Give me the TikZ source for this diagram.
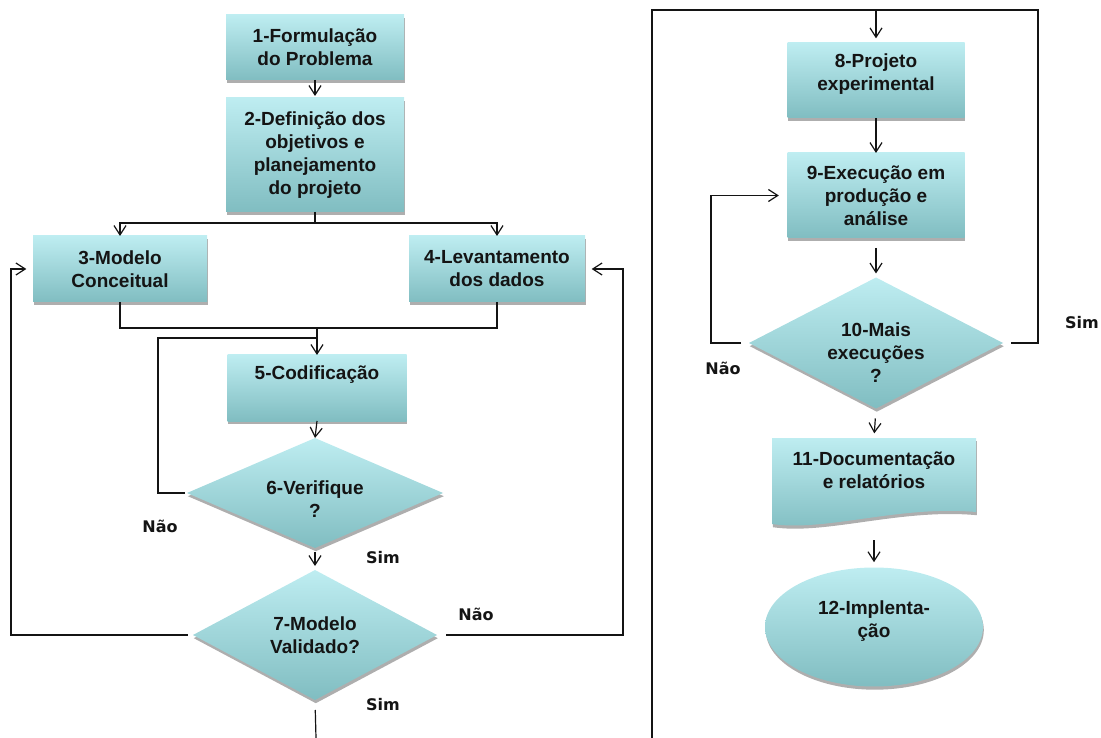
\documentclass[tikz,border=0pt]{standalone}
\usepackage{fontspec}
\setmainfont{Liberation Sans}
\newfontfamily\lblfont{DejaVu Sans}
\usetikzlibrary{arrows.meta,shapes.geometric,shadows,calc}

\definecolor{boxtop}{RGB}{190,237,241}
\definecolor{boxbot}{RGB}{128,189,193}
\definecolor{ink}{RGB}{20,20,20}

\tikzset{
  dims/.style 2 args={minimum width=#1*0.75pt, minimum height=#2*0.75pt},
  body/.style={top color=boxtop, bottom color=boxbot, draw=none,
    drop shadow={shadow xshift=0.6pt, shadow yshift=-2.4pt, opacity=0.45, fill=black!70}},
  procbox/.style={body, rectangle},
  decision/.style={body, diamond},
  terminal/.style={body, ellipse},
  txt/.style={font=\fontsize{14.25}{17.25}\selectfont\bfseries, align=center, text=ink},
  yn/.style={font=\lblfont\fontsize{12}{14}\selectfont\bfseries, text=ink},
  link/.style={draw=ink, line width=0.9pt},
  arr/.style={link, -{Straight Barb[length=7pt,width=9pt]}},
}

\begin{document}
\begin{tikzpicture}[x=0.75pt, y=-0.75pt, every node/.style={inner sep=0pt, outer sep=0pt}]
\useasboundingbox (0,0) rectangle (1101,738);

% ---- left column: modelling and validation ----
\node[procbox, dims={178}{65}] (b1) at (315,47.5)
  {}; \node[txt] (t1) at (b1) {1-Formulação\\do Problema};
\node[procbox, dims={178}{114}] (b2) at (315,155) {};
\node[txt] (t2) at (b2) {2-Definição dos\\objetivos e\\planejamento\\do projeto};
\node[procbox, dims={174}{66}] (b3) at (120,269) {};
\node[txt] (t3) at (b3) {3-Modelo\\Conceitual};
\node[procbox, dims={176}{66}] (b4) at (497,269) {};
\node[txt] (t4) at (b4) {4-Levantamento\\dos dados};
\node[procbox, dims={179}{66}] (b5) at (317,388) {};
\node[txt] (t5) at (317,375) {5-Codificação};
\node[decision, dims={256}{110}] (d6) at (315,493) {};
\node[txt] (t6) at (315,499) {6-Verifique\\?};
\node[decision, dims={244}{130}] (d7) at (315,635) {};
\node[txt] (t7) at (d7) {7-Modelo\\Validado?};

% ---- right column: experiments and reporting ----
\node[procbox, dims={177}{75}] (b8) at (876,80.5) {};
\node[txt] (t8) at (876,74.5) {8-Projeto\\experimental};
\node[procbox, dims={177}{85}] (b9) at (876,195.5) {};
\node[txt] (t9) at (b9) {9-Execução em\\produção e\\análise};
\node[decision, dims={254}{131}] (d10) at (876,343) {};
\node[txt] (t10) at (876,353) {10-Mais\\execuções\\?};
% document shape with a wavy lower edge
\path[body] (772,438) -- (976,438) -- (976,512)
  .. controls (900,505) and (825,532) .. (772,524) -- cycle;
\node[dims={204}{82}] (b11) at (874,479) {};
\node[txt] (t11) at (874,470.5) {11-Documentação\\e relatórios};
\node[terminal, dims={218}{119}] (e12) at (874,627) {};
\node[txt] (t12) at (874,621) {12-Implenta-\\ção};

% ---- connectors, left ----
\coordinate (split) at (315,223);
\coordinate (merge) at (317,328);
\coordinate (loopc) at (158,338);
\coordinate (xl) at (11,0);
\coordinate (xr) at (623,0);
\coordinate (out1) at (316,738);

\draw[arr, shorten >=1.5pt] (b1.south) -- (b2.north);
\draw[link] (b2.south) -- (split);
\draw[arr] (split) -| (b3.north);
\draw[arr] (split) -| (b4.north);
\draw[link] (b3.south) |- (merge);
\draw[link] (b4.south) |- (merge);
\draw[arr] (merge) -- (b5.north);
\draw[link, shorten <=1.5pt] (d6.west) -| (loopc) -- (loopc -| merge);
\draw[arr] (b5.south) -- (d6.north);
\draw[arr, shorten <=3pt, shorten >=3pt] (d6.south) -- (d7.north);
\draw[arr, shorten <=4pt, shorten >=5pt] (d7.west) -| (xl |- b3.west) -- (b3.west);
\draw[arr, shorten <=7pt, shorten >=5pt] (d7.east) -| (xr |- b4.east) -- (b4.east);
\draw[link, shorten <=7.5pt] (d7.south) -- (out1);

\node[yn] (n6) at (160,526) {Não};
\node[yn] (s6) at (383,558) {Sim};
\node[yn] (n7) at (476,614) {Não};
\node[yn] (s7) at (383,705) {Sim};

% ---- connectors, right ----
\coordinate (out2) at (652,738);
\coordinate (tr) at (1038,10);
\coordinate (xl2) at (711,0);

\draw[link, shorten >=6pt] (out2) |- (tr) |- (d10.east);
\draw[arr, shorten >=3.5pt] (b8.north |- tr) -- (b8.north);
\draw[arr] (b8.south) -- (b9.north);
\draw[arr, shorten <=7.5pt, shorten >=3pt] (b9.south) -- (d10.north);
\draw[arr, shorten <=6pt, shorten >=6.5pt] (d10.west) -| (xl2 |- b9.west) -- (b9.west);
\draw[arr, shorten <=7.5pt, shorten >=3.5pt] (d10.south) -- (b11.north);
\draw[arr, shorten <=15pt, shorten >=4pt] (b11.south) -- (e12.north);

\node[yn] (s10) at (1082,323) {Sim};
\node[yn] (n10) at (723,368) {Não};
\end{tikzpicture}
\end{document}
